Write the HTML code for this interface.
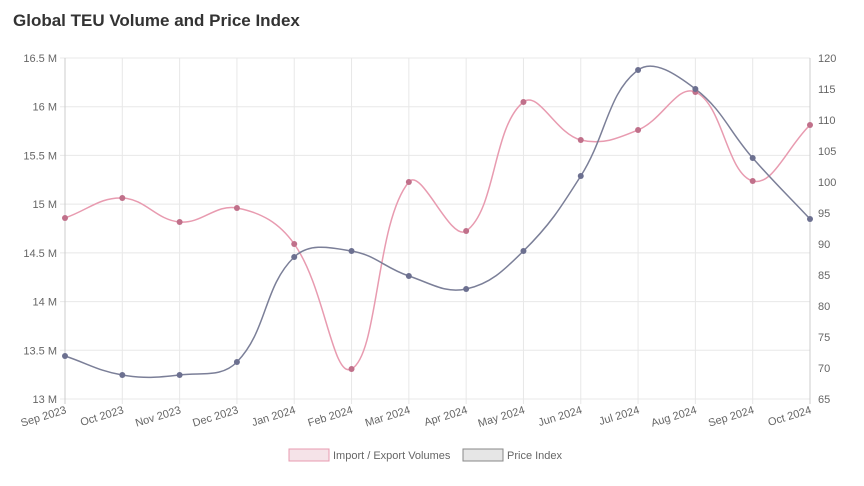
<!DOCTYPE html><html><head><style>body{margin:0;background:#fff;font-family:"Liberation Sans",sans-serif}</style></head><body>
<svg id="s" width="864" height="481" xmlns="http://www.w3.org/2000/svg" font-family="Liberation Sans, sans-serif">
<text x="13" y="26" font-size="17" font-weight="bold" fill="#333">Global TEU Volume and Price Index</text>
<g id="grid"></g>
<path id="p1" fill="none" stroke="#e89bb0" stroke-width="1.5"/>
<path id="p2" fill="none" stroke="#7b7f98" stroke-width="1.5"/>
<g id="pts"></g>
<rect x="289" y="449" width="40" height="12" fill="#f5e3e8" stroke="#e89bb0"/>
<text x="333" y="459" font-size="11" fill="#666">Import / Export Volumes</text>
<rect x="463" y="449" width="40" height="12" fill="#e6e6e6" stroke="#888"/>
<text x="507" y="459" font-size="11" fill="#666">Price Index</text>
</svg>
<script>
var g=document.getElementById('grid'),h='';
var L=65,R=810,T=58,B=399,dx=(R-L)/13;
var ly=['16.5 M','16 M','15.5 M','15 M','14.5 M','14 M','13.5 M','13 M'];
for(var i=0;i<8;i++){var y=T+(B-T)*i/7;h+='<line x1="'+(L-5)+'" x2="'+R+'" y1="'+y+'" y2="'+y+'" stroke="#e8e8e8"/>';
h+='<text x="'+(L-8)+'" y="'+(y+4)+'" font-size="11" fill="#666" text-anchor="end">'+ly[i]+'</text>';}
for(var i=0;i<12;i++){var v=120-5*i,y=T+(B-T)*i/11;h+='<text x="'+(R+8)+'" y="'+(y+4)+'" font-size="11" fill="#666">'+v+'</text>';}
var mo=['Sep 2023','Oct 2023','Nov 2023','Dec 2023','Jan 2024','Feb 2024','Mar 2024','Apr 2024','May 2024','Jun 2024','Jul 2024','Aug 2024','Sep 2024','Oct 2024'];
for(var i=0;i<14;i++){var x=L+dx*i;h+='<line x1="'+x+'" x2="'+x+'" y1="'+T+'" y2="'+(B+5)+'" stroke="'+(i==0||i==13?'#ccc':'#e8e8e8')+'"/>';
h+='<text transform="translate('+(x+2)+','+(B+14)+') rotate(-17)" font-size="11" fill="#666" text-anchor="end">'+mo[i]+'</text>';}
g.innerHTML=h;
var a=[218,198,222,208,244,369,182,231,102,140,130,92,181,125];
var b=[356,375,375,362,257,251,276,289,251,176,70,89,158,219];
function path(d){var p=d.map(function(y,i){return[L+dx*i,y]}),s='M'+p[0][0]+','+p[0][1],t=0.4,c=[];
for(var i=0;i<p.length;i++){var pr=p[Math.max(i-1,0)],cu=p[i],nx=p[Math.min(i+1,p.length-1)];
var d01=Math.hypot(cu[0]-pr[0],cu[1]-pr[1]),d12=Math.hypot(nx[0]-cu[0],nx[1]-cu[1]),sm=d01+d12||1;
var fa=t*d01/sm,fb=t*d12/sm;c.push([[cu[0]-fa*(nx[0]-pr[0]),cu[1]-fa*(nx[1]-pr[1])],[cu[0]+fb*(nx[0]-pr[0]),cu[1]+fb*(nx[1]-pr[1])]]);}
for(var i=1;i<p.length;i++){s+=' C'+c[i-1][1].join(',')+' '+c[i][0].join(',')+' '+p[i].join(',');}return s;}
document.getElementById('p1').setAttribute('d',path(a));
document.getElementById('p2').setAttribute('d',path(b));
var q='';for(var i=0;i<14;i++){var x=L+dx*i;q+='<circle cx="'+x+'" cy="'+a[i]+'" r="3" fill="#c0708a"/><circle cx="'+x+'" cy="'+b[i]+'" r="3" fill="#6c7090"/>';}
document.getElementById('pts').innerHTML=q;
</script></body></html>
